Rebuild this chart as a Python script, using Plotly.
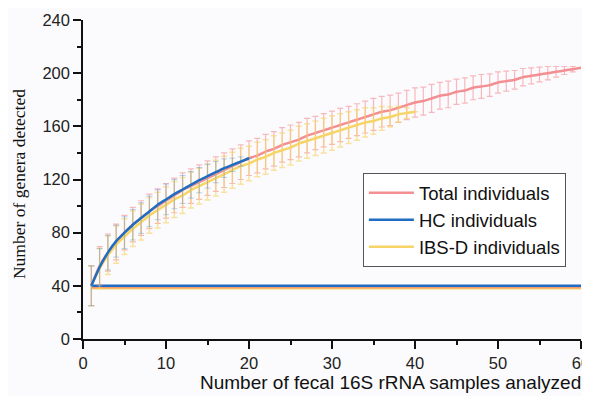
import plotly.graph_objects as go

# ---- data ----
x_total = list(range(1, 61))
total_mean = [40, 55, 65, 73, 80, 86, 91, 96, 100, 104,
              108, 112, 115, 118, 121, 124, 127, 130, 133, 136,
              138, 141, 143, 146, 148, 150, 153, 155, 157, 159,
              161, 163, 165, 167, 169, 171, 172, 174, 176, 178,
              179, 181, 183, 184, 186, 187, 189, 190, 191, 193,
              194, 195, 197, 198, 199, 200, 201, 202, 203, 204]
total_sd = [15, 14.5, 14, 13.5, 13, 13, 13, 13, 13, 13,
            13, 13, 13, 13, 13, 13, 13, 13, 13, 13,
            13, 13, 13, 13, 13, 13, 13, 12.5, 12.5, 12.5,
            12.5, 12, 12, 12, 12, 11.5, 11.5, 11, 11, 11,
            10.5, 10.5, 10, 10, 9.5, 9.5, 9, 9, 8.5, 8,
            7.5, 7, 6.5, 6, 5.5, 5, 4, 3, 2, 0]

x_hc = list(range(1, 21))
hc_mean = [40, 54, 65, 73.6, 80, 86, 91, 96, 101, 105,
           109, 112.5, 116, 119.5, 122.5, 125.5, 128.5, 131, 133.5, 136]
hc_sd = [15, 14, 13, 12, 12, 11.5, 11.5, 11.5, 11.3, 11.5,
         11, 10.5, 10, 9.5, 9, 8, 7, 5, 3.5, 0]

x_ibs = list(range(1, 41))
ibs_mean = [40, 53, 63, 71, 77, 83, 88, 93, 97, 101,
            105, 108, 112, 115, 118, 121, 124, 127, 130, 132,
            135, 137, 140, 142, 144, 147, 149, 151, 153, 155,
            157, 159, 161, 163, 164, 166, 167, 169, 170, 171]
ibs_sd = [15, 15, 14.5, 14, 13.5, 13.5, 13.5, 13.5, 13.5, 13.5,
          13.5, 13.5, 13.5, 13.5, 13.5, 13.5, 13.5, 13.5, 13.5, 13,
          13, 13, 13, 13, 13, 13, 13, 13, 13, 13,
          12.5, 12, 11.5, 11, 10, 9, 7.5, 6, 4, 0]

# horizontal reference lines near 40
x_base = [1, 60]
base_ibs = [38.2, 38.2]
base_total = [39.0, 39.0]
base_hc = [40.0, 40.0]

x_ticks = [0, 10, 20, 30, 40, 50, 60]
y_ticks = [0, 40, 80, 120, 160, 200, 240]

C_TOTAL = "#f38e92"
C_HC = "#1f6cc0"
C_IBS = "#f6d466"

fig = go.Figure()

fig.add_trace(go.Scatter(x=x_base, y=base_ibs, mode="lines", line=dict(color=C_IBS, width=2.5),
                         showlegend=False, hoverinfo="skip"))
fig.add_trace(go.Scatter(x=x_base, y=base_total, mode="lines", line=dict(color="#f29a70", width=2.5),
                         showlegend=False, hoverinfo="skip"))
fig.add_trace(go.Scatter(x=x_base, y=base_hc, mode="lines", line=dict(color=C_HC, width=2.5),
                         showlegend=False, hoverinfo="skip"))

fig.add_trace(go.Scatter(
    x=x_total, y=total_mean, mode="lines", name="Total individuals", legendrank=1,
    line=dict(color=C_TOTAL, width=2.5, shape="spline", smoothing=0.6),
    error_y=dict(type="data", array=total_sd, visible=True,
                 color="rgba(242,130,135,0.55)", thickness=1.2, width=3)))
fig.add_trace(go.Scatter(
    x=x_ibs, y=ibs_mean, mode="lines", name="IBS-D individuals", legendrank=3,
    line=dict(color=C_IBS, width=2.5, shape="spline", smoothing=0.6),
    error_y=dict(type="data", array=ibs_sd, visible=True,
                 color="rgba(246,210,100,0.6)", thickness=1.5, width=3)))
fig.add_trace(go.Scatter(
    x=x_hc, y=hc_mean, mode="lines", name="HC individuals", legendrank=2,
    line=dict(color=C_HC, width=2.5, shape="spline", smoothing=0.6),
    error_y=dict(type="data", array=hc_sd, visible=True,
                 color="rgba(60,140,215,0.7)", thickness=0.5, width=3)))

axis_font = dict(family="Arial, Liberation Sans, sans-serif", size=16.5, color="#222")

# page body has an 8px margin: figure is offset so the plot sits where the reference has it
fig.update_layout(
    width=590, height=396,
    margin=dict(l=75, r=17, t=12, b=65),
    paper_bgcolor="#fbfbfd",
    plot_bgcolor="#fbfbfd",
    font=axis_font,
    showlegend=True,
    legend=dict(x=0.562, y=0.52, xanchor="left", yanchor="top",
                bgcolor="#ffffff", bordercolor="#555", borderwidth=1,
                font=dict(family="Arial, Liberation Sans, sans-serif", size=18.5, color="#111"),
                tracegroupgap=0, itemwidth=45),
    xaxis=dict(range=[0, 60], tickvals=x_ticks, showgrid=False, zeroline=False, automargin=False,
               showline=True, linecolor="#111", linewidth=1.5,
               ticks="outside", ticklen=8, tickwidth=1.5, tickcolor="#111",
               minor=dict(dtick=5, ticks="outside", ticklen=4, tickwidth=1.5, tickcolor="#111"),
               tickfont=axis_font),
    yaxis=dict(range=[0, 240], tickvals=y_ticks, showgrid=False, zeroline=False, automargin=False,
               showline=True, linecolor="#111", linewidth=1.5,
               ticks="outside", ticklen=8, tickwidth=1.5, tickcolor="#111",
               minor=dict(dtick=20, ticks="outside", ticklen=4, tickwidth=1.5, tickcolor="#111"),
               tickfont=axis_font),
    annotations=[
        dict(text="Number of fecal 16S rRNA samples analyzed", xref="paper", yref="paper",
             x=1.004, y=-0.135, xanchor="right", yanchor="middle", showarrow=False,
             font=dict(family="Arial, Liberation Sans, sans-serif", size=19, color="#111")),
        dict(text="Number of genera detected", xref="paper", yref="paper",
             x=-0.127, y=0.485, xanchor="center", yanchor="middle", showarrow=False, textangle=-90,
             font=dict(family="Times New Roman, Liberation Serif, serif", size=17.5, color="#111")),
    ],
)

fig.write_html("out.html")
